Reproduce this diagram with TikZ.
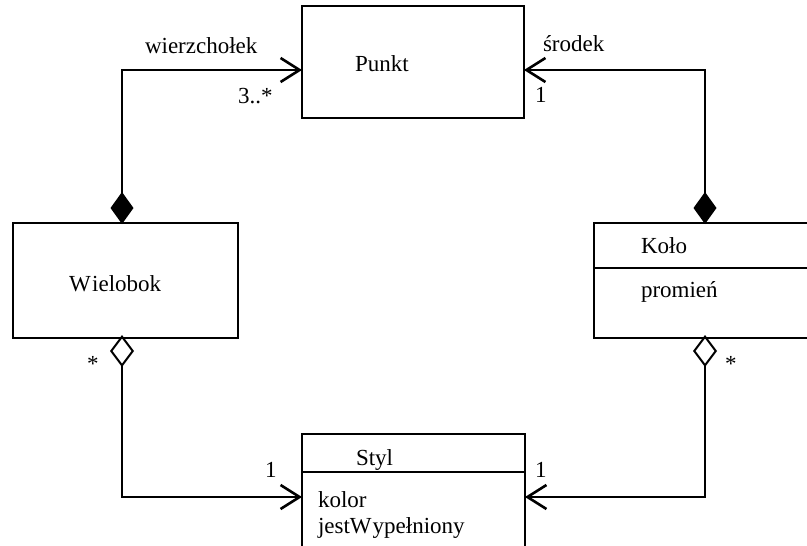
\documentclass[tikz,border=0pt]{standalone}
\usepackage{fontspec}
\setmainfont{Liberation Serif}
\usetikzlibrary{arrows.meta}
\begin{document}
\begin{tikzpicture}[x=1pt,y=-1pt,
  every node/.style={inner sep=0pt,outer sep=0pt,font=\fontsize{23}{27}\selectfont},
  txt/.style={anchor=base west},
  box/.style={draw,line width=2pt},
  conn/.style={line width=2.2pt},
  nav/.style={-{Straight Barb[length=19pt,width=24pt,line width=2.6pt]}},
  comp/.style={{Diamond[length=32pt,width=23pt]}-{Straight Barb[length=19pt,width=24pt,line width=2.6pt]}},
  aggr/.style={{Diamond[open,length=32pt,width=24pt,line width=2pt]}-{Straight Barb[length=19pt,width=24pt,line width=2.6pt]}}]
\useasboundingbox (0,0) rectangle (807,546);
\clip (0,0) rectangle (807,546);

% class boxes
\node[box,minimum width=222pt,minimum height=112pt,anchor=north west] (punkt) at (302,6) {};
\node[box,minimum width=225pt,minimum height=115pt,anchor=north west] (wielobok) at (13,222.5) {};
\node[box,minimum width=230pt,minimum height=115pt,anchor=north west] (kolo) at (594,222.5) {};
\node[box,minimum width=223pt,minimum height=130pt,anchor=north west] (styl) at (302,434) {};
\draw[line width=2pt] (kolo.west |- 0,268) -- (kolo.east |- 0,268);
\draw[line width=2pt] (styl.west |- 0,472) -- (styl.east |- 0,472);

% class names and attributes
\node[txt] (tpunkt) at (355,71) {Punkt};
\node[txt] (twielobok) at (69,291) {W\kern1.5pt ielobok};
\node[txt] (tkolo) at (641,253) {Koło};
\node[txt] (tpromien) at (641,297) {promień};
\node[txt] (tstyl) at (356,465) {Styl};
\node[txt] (tkolor) at (318,507) {kolor};
\node[txt] (tjest) at (318,533) {jestW\kern1pt ypełniony};

% connector bends
\coordinate (wtop) at (122,224);
\coordinate (ktop) at (705,224);
\coordinate (wbot) at (122,335);
\coordinate (kbot) at (705,335);

% associations
\draw[conn,comp] (wtop) |- (punkt.west |- 0,70);
\draw[conn,comp] (ktop) |- (punkt.east |- 0,70);
\draw[conn,aggr] (wbot) |- (styl.west |- 0,497);
\draw[conn,aggr] (kbot) |- (styl.east |- 0,497);

% role names and multiplicities
\node[txt] (lwierz) at (145,53) {wierzchołek};
\node[txt] (lwmult) at (238,103) {3..*};
\node[txt] (lsrodek) at (543,52) {środek};
\node[txt] (lkmult) at (535,102) {1};
\node[txt] (lsl) at (265,477) {1};
\node[txt] (lsr) at (535,477) {1};
\node[txt] (lwa) at (87,371) {*};
\node[txt] (lka) at (725,371) {*};
\end{tikzpicture}
\end{document}
